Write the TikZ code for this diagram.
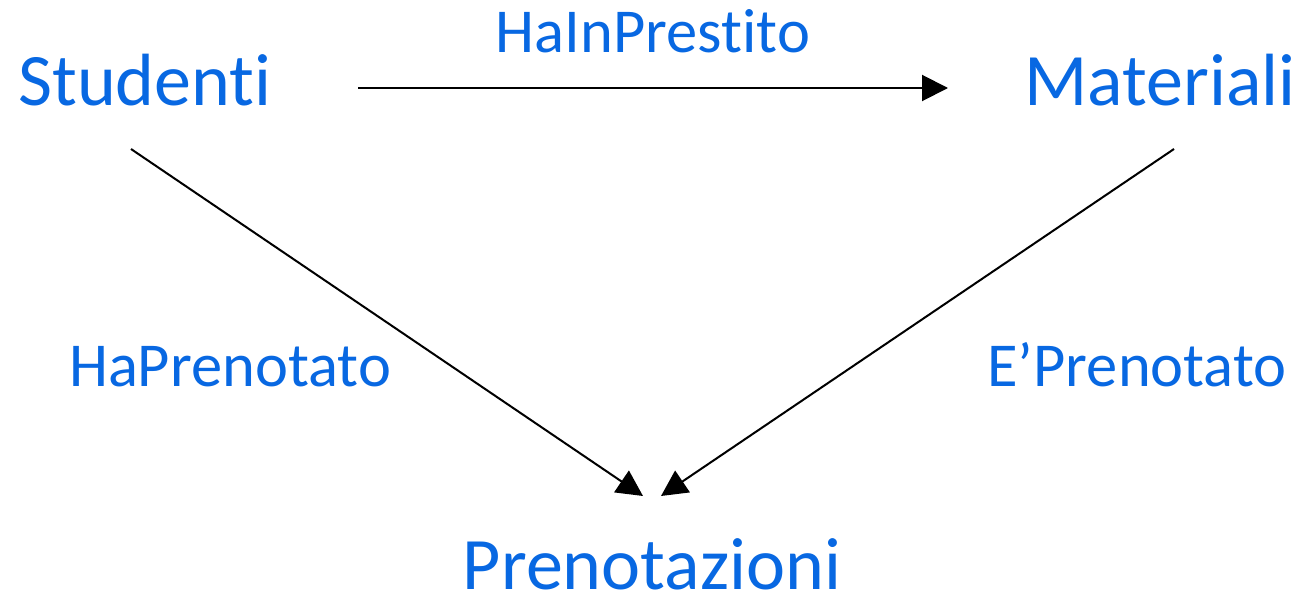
\documentclass[tikz,border=0pt]{standalone}
\usepackage{fontspec}
\setmainfont{Carlito}[Ligatures=NoCommon]
\usetikzlibrary{arrows.meta}
\definecolor{lblue}{RGB}{8,104,226}
\begin{document}
\begin{tikzpicture}[x=1pt,y=-1pt,
  ent/.style={text=lblue,font=\fontsize{74}{80}\selectfont,inner sep=0pt,anchor=base},
  rel/.style={text=lblue,font=\fontsize{62.5}{66}\selectfont,inner sep=0pt,anchor=base},
  conn/.style={line width=2pt,-{Triangle[length=26pt,width=26pt]}}]
\useasboundingbox (0,0) rectangle (1304,594);
\node[ent] (stu) at (145,106) {Studenti};
\node[ent] (mat) at (1160,106) {Materiali};
\node[ent] (pre) at (652,589) {Prenotazioni};
\node[rel] (hip) at (653,53) {HaInPrestito};
\node[rel] (hp) at (230,386) {HaPrenotato};
\node[rel] (ep) at (1137,386) {E’Prenotato};
\coordinate (s1) at (358,88);
\coordinate (m1) at (948,88);
\coordinate (s2) at (131,149);
\coordinate (m2) at (1174,149);
\coordinate (p1) at (643,496);
\coordinate (p2) at (661,496);
\draw[conn] (s1) -- (m1);
\draw[conn] (s2) -- (p1);
\draw[conn] (m2) -- (p2);
\end{tikzpicture}
\end{document}
